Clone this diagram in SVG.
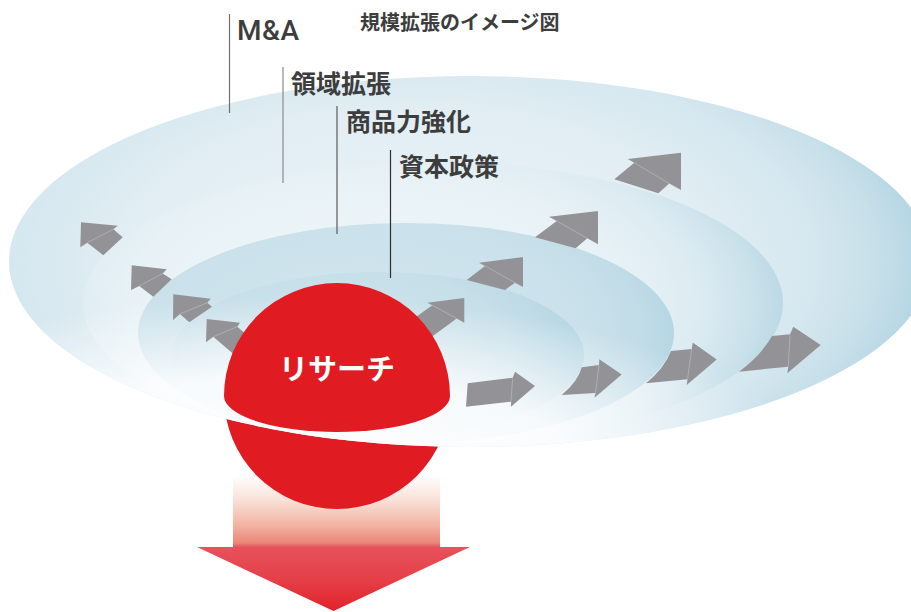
<svg xmlns="http://www.w3.org/2000/svg" width="911" height="612" viewBox="0 0 911 612">
  <defs>
    <style>
      .label { font-family: "Noto Sans CJK JP", "Noto Sans", sans-serif; font-weight: 700; fill: #3d3d3d; }
      .latin { font-family: Roboto, "Liberation Sans", Arial, sans-serif; font-weight: 500; fill: #3d3d3d; }
      .lead { stroke-width: 1.2; fill: none; }
      .arrow { fill: #939397; }
      .seam { stroke: #b9b9bc; stroke-width: 0.7; fill: none; }
      .red { fill: #e11b22; }
    </style>
    <!-- ring fills: light core, deeper blue toward the rim (right side darkest) -->
    <radialGradient id="ring1" cx="0.44" cy="0.5" r="0.56" gradientTransform="translate(0.44 0.5) scale(1 1.3) translate(-0.44 -0.5)">
      <stop offset="0" stop-color="#eaf3f7"/>
      <stop offset="0.55" stop-color="#e2eef4"/>
      <stop offset="0.78" stop-color="#d5e7ef"/>
      <stop offset="0.9" stop-color="#c6dfe9"/>
      <stop offset="1" stop-color="#b2d4e3"/>
    </radialGradient>
    <radialGradient id="ring2" cx="0.42" cy="0.5" r="0.58" gradientTransform="translate(0.42 0.5) scale(1 1.3) translate(-0.42 -0.5)">
      <stop offset="0" stop-color="#f0f6f9"/>
      <stop offset="0.6" stop-color="#e8f2f6"/>
      <stop offset="0.8" stop-color="#dcebf2"/>
      <stop offset="0.92" stop-color="#cbe2eb"/>
      <stop offset="1" stop-color="#bcd9e6"/>
    </radialGradient>
    <radialGradient id="ring3" cx="0.42" cy="0.5" r="0.58" gradientTransform="translate(0.42 0.5) scale(1 1.3) translate(-0.42 -0.5)">
      <stop offset="0" stop-color="#d3e6ee"/>
      <stop offset="0.7" stop-color="#cae1eb"/>
      <stop offset="0.9" stop-color="#c1dce7"/>
      <stop offset="1" stop-color="#b6d6e4"/>
    </radialGradient>
    <radialGradient id="ring4" cx="0.42" cy="0.5" r="0.58" gradientTransform="translate(0.42 0.5) scale(1 1.3) translate(-0.42 -0.5)">
      <stop offset="0" stop-color="#cfe4ed"/>
      <stop offset="0.7" stop-color="#c6dfe9"/>
      <stop offset="1" stop-color="#b7d7e4"/>
    </radialGradient>
    <!-- white haze over the lower part of the rings -->
    <radialGradient id="haze" gradientUnits="userSpaceOnUse" cx="0" cy="0" r="1" gradientTransform="translate(290 472) scale(520 175)">
      <stop offset="0" stop-color="#ffffff" stop-opacity="1"/>
      <stop offset="0.55" stop-color="#ffffff" stop-opacity="0.85"/>
      <stop offset="1" stop-color="#ffffff" stop-opacity="0"/>
    </radialGradient>
    <!-- big downward arrow: white at the top, red at the tip -->
    <linearGradient id="down" gradientUnits="userSpaceOnUse" x1="0" y1="475" x2="0" y2="611">
      <stop offset="0" stop-color="#ffffff"/>
      <stop offset="0.18" stop-color="#f9e2d9"/>
      <stop offset="0.37" stop-color="#f2b3a3"/>
      <stop offset="0.5" stop-color="#ec8677"/>
      <stop offset="0.53" stop-color="#e6525b"/>
      <stop offset="0.75" stop-color="#e5414a"/>
      <stop offset="1" stop-color="#e2222a"/>
    </linearGradient>
  </defs>

  <!-- output arrow -->
  <g id="output-arrow">
    <polygon points="233,475 440,475 440,547 470,547 333.5,611 197,547 233,547" fill="url(#down)"/>
  </g>

  <!-- lower half of the sphere (top hidden by the rings) -->
  <g id="sphere-lower">
    <circle class="red" cx="337" cy="396" r="113"/>
  </g>

  <!-- expanding rings -->
  <g id="rings">
    <ellipse id="ring-ma" cx="470" cy="261.5" rx="461" ry="185.5" fill="url(#ring1)"/>
    <ellipse id="ring-domain" cx="433" cy="303" rx="350" ry="141" fill="url(#ring2)"/>
    <ellipse id="ring-product" cx="406" cy="333" rx="268" ry="110" fill="url(#ring3)"/>
    <ellipse id="ring-capital" cx="378" cy="355" rx="206" ry="83" fill="url(#ring4)"/>
    <ellipse cx="470" cy="261.5" rx="461" ry="185.5" fill="url(#haze)"/>
  </g>

  <!-- growth arrows -->
  <g id="arrows">
    <!-- upper left -->
    <polygon class="arrow" points="81,222.3 117.7,225.7 113.3,229.3 122.7,237.3 103.3,255.3 87.3,242.7 80.3,247.3"/>
    <line class="seam" x1="113.3" y1="229.3" x2="87.3" y2="242.7"/>
    <polygon class="arrow" points="131.7,265.3 166.7,269.3 162.7,273.5 171.7,279.3 153.3,296.7 139.3,286 131,290"/>
    <line class="seam" x1="162.7" y1="273.5" x2="139.3" y2="286"/>
    <polygon class="arrow" points="173.3,294.3 210.7,298.7 207.3,302.7 212,306.7 189.3,322.3 180,314 173,320"/>
    <line class="seam" x1="207.3" y1="302.7" x2="180" y2="314"/>
    <polygon class="arrow" points="206.7,319 240,322.7 237.3,326.7 262,348 238,358 213.3,336.7 206,342.3"/>
    <line class="seam" x1="237.3" y1="326.7" x2="213.3" y2="336.7"/>
    <!-- upper right -->
    <polygon class="arrow" points="614.3,179.3 634.3,162.8 627.7,159 681,152.7 681,190 669.3,183.5 658.3,193.3"/>
    <line class="seam" x1="634.3" y1="162.8" x2="669.3" y2="183.5"/>
    <polygon class="arrow" points="535,237.3 556.7,221 549,216.7 598,211 598,244.3 587.3,238.3 575.7,248.3"/>
    <line class="seam" x1="556.7" y1="221" x2="587.3" y2="238.3"/>
    <polygon class="arrow" points="466.7,280 485,266 479,262.7 523,257 523,287 515,282.7 505,290"/>
    <line class="seam" x1="485" y1="266" x2="515" y2="282.7"/>
    <polygon class="arrow" points="402,327 432.3,305.3 427.3,302.7 464.3,298 464.3,322.7 456.7,318.5 426.7,340.5"/>
    <line class="seam" x1="432.3" y1="305.3" x2="456.7" y2="318.5"/>
    <!-- right -->
    <polygon class="arrow" points="467.7,383.3 512.7,377.7 515,371.7 535,386 511,406.7 511,401.7 466,406.7"/>
    <line class="seam" x1="512.7" y1="377.7" x2="511" y2="401.7"/>
    <path class="arrow" d="M561.7,395 A206,83 0 0 0 581.8,367.3 L599,365 L599.3,359.3 L621.7,374.5 L594.5,397.7 L595.5,393 Z"/>
    <line class="seam" x1="599" y1="365" x2="595.5" y2="393"/>
    <path class="arrow" d="M646,383.3 A268,110 0 0 0 671,351 L691.7,349 L692.7,342.5 L716.7,359.5 L686.7,385 L687.5,379.3 Z"/>
    <line class="seam" x1="691.7" y1="349" x2="687.5" y2="379.3"/>
    <path class="arrow" d="M739,371.7 A350,141 0 0 0 772,336 L790,334.3 L793.3,326.7 L820.7,345 L787.3,373.3 L788.3,366.7 Z"/>
    <line class="seam" x1="790" y1="334.3" x2="788.3" y2="366.7"/>
  </g>

  <!-- research core: upper half of the sphere -->
  <g id="research">
    <path class="red" d="M224,396 A113,113 0 0 1 450,396 A113,36 0 0 1 224,396 Z"/>
    <text class="label" x="337" y="380" font-size="29" style="fill:#ffffff" text-anchor="middle">リサーチ</text>
  </g>

  <!-- leader lines -->
  <g id="leaders">
    <line class="lead" x1="229.5" y1="14" x2="229.5" y2="113" stroke="#6f6f6f"/>
    <line class="lead" x1="283" y1="67" x2="283" y2="183" stroke="#8a8a8a"/>
    <line class="lead" x1="337" y1="106" x2="337" y2="234" stroke="#5a5a5a"/>
    <line class="lead" x1="390.5" y1="150" x2="390.5" y2="278" stroke="#2e2e2e"/>
  </g>

  <!-- labels -->
  <g id="title">
    <text class="label" x="360" y="30" font-size="20">規模拡張のイメージ図</text>
  </g>
  <g id="label-ma">
    <text class="latin" x="237" y="40" font-size="28" letter-spacing="0.5">M&amp;A</text>
  </g>
  <g id="label-domain">
    <text class="label" x="291" y="93" font-size="25">領域拡張</text>
  </g>
  <g id="label-product">
    <text class="label" x="346" y="131" font-size="25">商品力強化</text>
  </g>
  <g id="label-capital">
    <text class="label" x="399" y="176" font-size="25">資本政策</text>
  </g>
</svg>
